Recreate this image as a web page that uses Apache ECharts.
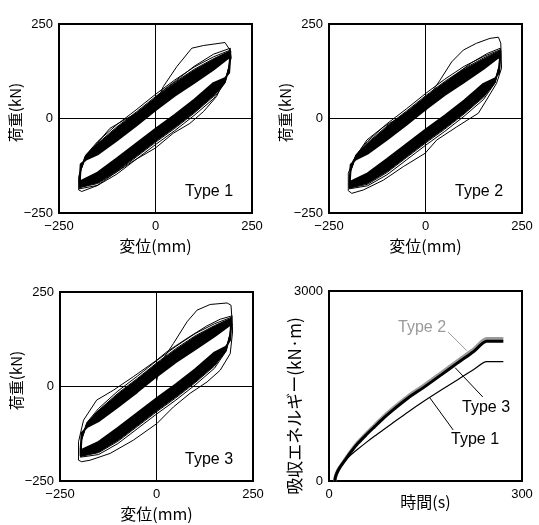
<!DOCTYPE html>
<html><head><meta charset="utf-8">
<script src="https://cdn.jsdelivr.net/npm/echarts@6/dist/echarts.min.js"></script>
<style>html,body{margin:0;padding:0;background:#fff}#c{width:539px;height:525px}</style>
</head><body><div id="c"></div>
<script>
// ---- shared displacement stations (mm) ----
const dispDown = [194, 191, 180, 150, 100, 50, 0, -50, -100, -150, -197];
const dispUp   = [-197, -194, -180, -150, -100, -50, 0, 50, 100, 150, 194];

// ---- Type 1 hysteresis (load kN at the stations above) ----
const type1First = [[0,0],[0,18],[6,50],[20,84],[55,137],[94,186],[124,193],[180,201],[193,181],[196,160],
  [193,150],[184,111],[158,58],[124,18],[89,-13],[46,-39],[0,-78],[-57,-112],[-109,-147],[-152,-178],[-191,-193],[-199,-189],
  [-199,-154],[-183,-101],[-144,-57],[-118,-26],[-75,0],[-40,18],[-6,49],[20,75],[50,98],[100,138],[150,170],[194,186]];
const type1ThinDown = [
  [184,140,94,52,8,-32,-69,-108,-147,-177,-186],
  [181,137,96,58,14,-26,-63,-102,-141,-172,-183]];
const type1ThinUp = [
  [-186,-140,-96,-61,-16,23,64,102,136,163,181],
  [-183,-137,-98,-66,-22,17,58,96,130,158,179]];
const type1CoreDown = [
  [179,135,97,62,18,-22,-59,-98,-137,-169,-181],
  [177,133,98,66,22,-18,-55,-94,-133,-166,-179],
  [176,132,100,70,26,-14,-51,-90,-129,-162,-178],
  [174,130,101,74,30,-10,-47,-86,-125,-159,-176],
  [172,128,102,78,34,-6,-43,-82,-121,-156,-174],
  [170,126,103,82,38,-2,-39,-78,-117,-153,-172],
  [168,124,104,86,42,2,-35,-74,-113,-150,-170],
  [167,123,106,90,46,6,-31,-70,-109,-146,-169],
  [165,121,107,94,50,10,-27,-66,-105,-143,-167]];
const type1CoreUp = [
  [-181,-135,-99,-69,-26,13,54,92,126,155,177],
  [-179,-133,-100,-72,-30,9,50,88,122,152,176],
  [-178,-132,-102,-76,-34,5,46,84,118,148,174],
  [-176,-130,-103,-79,-38,1,42,80,114,145,172],
  [-174,-128,-104,-82,-42,-3,38,76,110,142,170],
  [-172,-126,-105,-85,-46,-7,34,72,106,139,168],
  [-170,-124,-106,-88,-50,-11,30,68,102,136,167],
  [-169,-123,-108,-92,-54,-15,26,64,98,132,165],
  [-167,-121,-109,-95,-58,-19,22,60,94,129,164]];

// ---- Type 2 hysteresis ----
const type2First = [[0,0],[0,18],[10,60],[38,102],[68,150],[98,181],[132,199],[167,212],[189,215],[195,199],[197,133],
  [193,128],[184,93],[158,49],[137,14],[115,0],[81,-22],[29,-57],[-1,-92],[-57,-127],[-109,-163],[-161,-189],[-191,-198],[-200,-191],
  [-200,-145],[-187,-110],[-152,-57],[-109,-22],[-57,9],[-1,49],[29,75],[70,110],[120,148],[160,172],[194,186]];
const type2ThinDown = [
  [184,140,94,50,6,-34,-71,-110,-149,-178,-186],
  [182,138,95,56,12,-28,-65,-104,-143,-174,-184]];
const type2ThinUp = [
  [-186,-140,-96,-60,-14,25,66,104,138,164,182],
  [-184,-138,-97,-64,-20,19,60,98,132,160,180]];
const type2CoreDown = [
  [180,136,97,60,16,-24,-61,-100,-139,-170,-182],
  [178,134,98,64,20,-20,-57,-96,-135,-167,-180],
  [177,133,99,68,24,-16,-53,-92,-131,-164,-179],
  [175,131,100,72,28,-12,-49,-88,-127,-161,-177],
  [173,129,101,76,32,-8,-45,-84,-123,-158,-175],
  [171,127,103,80,36,-4,-41,-80,-119,-154,-173],
  [169,125,104,84,40,0,-37,-76,-115,-151,-171],
  [167,123,105,88,44,4,-33,-72,-111,-148,-169],
  [166,122,106,92,48,8,-29,-68,-107,-145,-168]];
const type2CoreUp = [
  [-182,-136,-99,-68,-24,15,56,94,128,156,178],
  [-180,-134,-100,-71,-28,11,52,90,124,153,177],
  [-179,-133,-101,-74,-32,7,48,86,120,150,175],
  [-177,-131,-102,-77,-36,3,44,82,116,147,173],
  [-175,-129,-103,-80,-40,-1,40,78,112,144,171],
  [-173,-127,-105,-84,-44,-5,36,74,108,140,169],
  [-171,-125,-106,-87,-48,-9,32,70,104,137,167],
  [-169,-123,-107,-90,-52,-13,28,66,100,134,166],
  [-168,-122,-108,-93,-56,-17,24,62,96,131,165]];

// ---- Type 3 hysteresis ----
const type3First = [[0,0],[0,13],[10,62],[44,114],[79,171],[105,202],[139,217],[183,221],[193,215],[197,158],
  [197,144],[191,87],[165,43],[131,12],[87,-18],[44,-54],[1,-98],[-60,-142],[-120,-177],[-172,-195],[-194,-199],[-202,-195],
  [-202,-146],[-189,-89],[-155,-36],[-112,-10],[-60,26],[1,70],[27,92],[80,128],[130,160],[165,178],[196,187]];
const type3ThinDown = [
  [185,141,93,48,4,-36,-73,-112,-151,-180,-187],
  [183,139,95,54,10,-30,-67,-106,-145,-175,-185]];
const type3ThinUp = [
  [-187,-141,-95,-58,-12,27,68,106,140,166,183],
  [-185,-139,-97,-63,-18,21,62,100,134,161,181]];
const type3CoreDown = [
  [181,137,96,58,14,-26,-63,-102,-141,-172,-183],
  [179,135,97,62,18,-22,-59,-98,-137,-169,-181],
  [177,133,98,66,22,-18,-55,-94,-133,-166,-179],
  [176,132,100,70,26,-14,-51,-90,-129,-162,-178],
  [174,130,101,74,30,-10,-47,-86,-125,-159,-176],
  [172,128,102,78,34,-6,-43,-82,-121,-156,-174],
  [170,126,103,82,38,-2,-39,-78,-117,-153,-172],
  [168,124,104,86,42,2,-35,-74,-113,-150,-170],
  [167,123,106,90,46,6,-31,-70,-109,-146,-169]];
const type3CoreUp = [
  [-183,-137,-98,-66,-22,17,58,96,130,158,179],
  [-181,-135,-99,-69,-26,13,54,92,126,155,177],
  [-179,-133,-100,-72,-30,9,50,88,122,152,176],
  [-178,-132,-102,-76,-34,5,46,84,118,148,174],
  [-176,-130,-103,-79,-38,1,42,80,114,145,172],
  [-174,-128,-104,-82,-42,-3,38,76,110,142,170],
  [-172,-126,-105,-85,-46,-7,34,72,106,139,168],
  [-170,-124,-106,-88,-50,-11,30,68,102,136,167],
  [-169,-123,-108,-92,-54,-15,26,64,98,132,165]];

// ---- absorbed energy (kN·m) vs time (s) ----
const timeS       = [9, 10, 12, 16, 25, 35, 45, 58, 71, 84, 97, 123, 149, 175, 200, 225, 245, 271];
const energyType1 = [0, 60, 115, 190, 320, 420, 505, 610, 710, 805, 900, 1090, 1270, 1440, 1600, 1760, 1884, 1884];
const energyType2 = [0, 60, 125, 205, 340, 485, 612, 752, 882, 1012, 1128, 1340, 1520, 1712, 1898, 2080, 2245, 2245];
const energyType3 = [0, 60, 120, 200, 330, 470, 595, 730, 858, 985, 1100, 1310, 1490, 1680, 1865, 2045, 2205, 2205];

// ---- tick labels ----
const dispTicks = [-250, 0, 250];
const loadTicks = [-250, 0, 250];
const timeTicks = [0, 300];
const energyTicks = [0, 3000];

function loopPath(first, downs, ups) {
  const pts = first ? first.slice() : [];
  downs.forEach((dn, k) => {
    dn.forEach((f, i) => pts.push([dispDown[i], f]));
    ups[k].forEach((f, i) => pts.push([dispUp[i], f]));
  });
  return pts;
}
const fmt = v => (v < 0 ? '\u2212' + Math.abs(v) : String(v));
const LAT = 'Liberation Sans, Arial, sans-serif';
const JP = '"Noto Sans CJK JP", sans-serif';

const grids = [
  {left: 59, top: 24, width: 193, height: 189},
  {left: 329, top: 24, width: 193, height: 189},
  {left: 60, top: 292, width: 193, height: 189},
  {left: 329, top: 291, width: 193, height: 190}
].map(g => Object.assign(g, {show: true, borderColor: '#000', borderWidth: 2, backgroundColor: 'transparent'}));

function xAx(i, min, max, ticks, name, gap) {
  return {type: 'value', gridIndex: i, min: min, max: max, interval: ticks[1] - ticks[0],
    axisLine: {show: false}, axisTick: {show: false},
    splitLine: {show: i < 3, lineStyle: {color: '#000', width: 1}},
    axisLabel: {formatter: fmt, color: '#000', fontSize: 13, fontFamily: LAT, margin: 7, showMinLabel: true, showMaxLabel: true},
    name: name, nameLocation: 'middle', nameGap: gap, nameMoveOverlap: false,
    nameTextStyle: {color: '#000', fontSize: 16, fontFamily: JP}};
}
function yAx(i, min, max, ticks, name, gap, nameSize, namePad) {
  return {type: 'value', gridIndex: i, min: min, max: max, interval: ticks[1] - ticks[0],
    axisLine: {show: false}, axisTick: {show: false},
    splitLine: {show: i < 3, lineStyle: {color: '#000', width: 1}},
    axisLabel: {formatter: fmt, color: '#000', fontSize: 13, fontFamily: LAT, margin: 6, padding: [0, 0, 10, 0], showMinLabel: true, showMaxLabel: true},
    name: name, nameLocation: 'middle', nameGap: gap, nameMoveOverlap: false,
    nameTextStyle: {color: '#000', fontSize: nameSize, fontFamily: JP, padding: namePad}};
}

const loopSeries = (i, data, w) => ({type: 'line', xAxisIndex: i, yAxisIndex: i, data: data,
  showSymbol: false, symbol: 'none', silent: true, animation: false,
  lineStyle: {color: '#000', width: w}});

const energyLine = (arr, color, width, leader) => {
  const s = {type: 'line', xAxisIndex: 3, yAxisIndex: 3, data: timeS.map((t, i) => [t, arr[i]]),
    showSymbol: false, symbol: 'none', silent: true, animation: false, smooth: 0.25,
    lineStyle: {color: color, width: width}};
  if (leader) s.markLine = {silent: true, symbol: 'none', animation: false, label: {show: false},
    lineStyle: {color: leader.color, width: 1, type: 'solid'}, data: [[{coord: leader.a}, {coord: leader.b}]]};
  return s;
};

const option = {
  animation: false,
  grid: grids,
  xAxis: [
    xAx(0, -250, 250, dispTicks, '変位(mm)', 25),
    xAx(1, -250, 250, dispTicks, '変位(mm)', 25),
    xAx(2, -250, 250, dispTicks, '変位(mm)', 25),
    xAx(3, 0, 300, timeTicks, '時間(s)', 13)
  ],
  yAxis: [
    yAx(0, -250, 250, loadTicks, '荷重(kN)', 36, 15, [0, 0, 0, 12]),
    yAx(1, -250, 250, loadTicks, '荷重(kN)', 36, 15, [0, 0, 0, 12]),
    yAx(2, -250, 250, loadTicks, '荷重(kN)', 36, 15, [0, 0, 0, 12]),
    yAx(3, 0, 3000, energyTicks, '吸収エネルギー(kN·m)', 26, 17, [0, 40, 0, 0])
  ],
  series: [
    loopSeries(0, loopPath(type1First, type1ThinDown, type1ThinUp), 1),
    loopSeries(0, loopPath(null, type1CoreDown, type1CoreUp), 1.8),
    loopSeries(1, loopPath(type2First, type2ThinDown, type2ThinUp), 1),
    loopSeries(1, loopPath(null, type2CoreDown, type2CoreUp), 1.8),
    loopSeries(2, loopPath(type3First, type3ThinDown, type3ThinUp), 1),
    loopSeries(2, loopPath(null, type3CoreDown, type3CoreUp), 1.8),
    energyLine(energyType2, '#9a9a9a', 3.5, {color: '#9a9a9a', a: [185, 2354], b: [214, 2060]}),
    energyLine(energyType3, '#000', 3, {color: '#000', a: [239, 1327], b: [196, 1790]}),
    energyLine(energyType1, '#000', 1.2, {color: '#000', a: [193, 806], b: [157, 1310]})
  ],
  graphic: [
    {type: 'text', left: 185, top: 184, style: {text: 'Type 1', font: '16px ' + LAT, fill: '#000'}},
    {type: 'text', left: 455, top: 184, style: {text: 'Type 2', font: '16px ' + LAT, fill: '#000'}},
    {type: 'text', left: 185, top: 452, style: {text: 'Type 3', font: '16px ' + LAT, fill: '#000'}},
    {type: 'text', left: 398, top: 320, style: {text: 'Type 2', font: '16px ' + LAT, fill: '#9a9a9a'}},
    {type: 'text', left: 462, top: 400, style: {text: 'Type 3', font: '16px ' + LAT, fill: '#000'}},
    {type: 'text', left: 451, top: 432, style: {text: 'Type 1', font: '16px ' + LAT, fill: '#000'}}
  ]
};
const chart = echarts.init(document.getElementById('c'), null, {renderer: 'canvas'});
chart.setOption(option);
</script></body></html>
